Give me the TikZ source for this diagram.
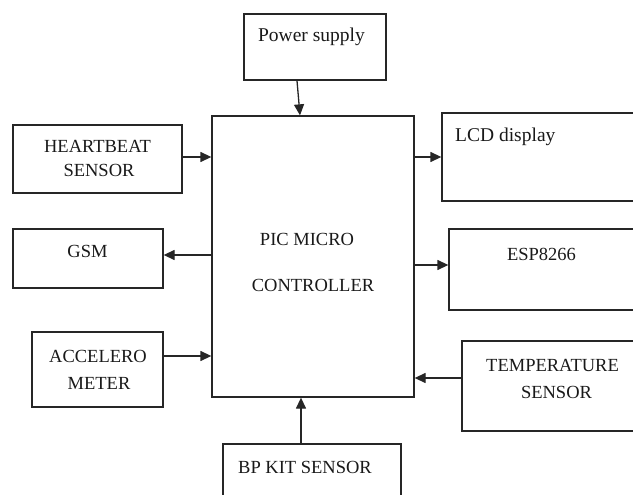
\documentclass[tikz,border=0pt]{standalone}
\usepackage{fontspec}
\setmainfont{Liberation Serif}
\usetikzlibrary{arrows.meta}
\begin{document}
\begin{tikzpicture}[x=1pt,y=-1pt,
  box/.style={draw=black!85, line width=1.3pt, inner sep=0pt},
  captxt/.style={inner sep=0pt, anchor=base, text=black!90, font=\fontsize{18.5}{22}\selectfont},
  lowtxt/.style={inner sep=0pt, anchor=base, text=black!90, font=\fontsize{19.5}{23}\selectfont},
  arr/.style={line width=1.3pt, draw=black!85, -{Triangle[length=11pt,width=10pt]}}]
\useasboundingbox (0,0) rectangle (633,495);
\clip (0,0) rectangle (633,495);
% boxes
\node[box, minimum width=142pt, minimum height=66pt] (ps) at (315,47) {};
\node[box, minimum width=202pt, minimum height=281pt] (main) at (313,256.5) {};
\node[box, minimum width=169pt, minimum height=68pt] (hb) at (97.5,159) {};
\node[box, minimum width=150pt, minimum height=59pt] (gsm) at (88,258.5) {};
\node[box, minimum width=131pt, minimum height=75pt] (acc) at (97.5,369.5) {};
\node[box, minimum width=208pt, minimum height=88pt] (lcd) at (546,157) {};
\node[box, minimum width=201pt, minimum height=81pt] (esp) at (549.5,269.5) {};
\node[box, minimum width=188pt, minimum height=90pt] (temp) at (556,386) {};
\node[box, minimum width=178pt, minimum height=76pt] (bp) at (312,482) {};
% texts
\node[lowtxt] (tps) at (311.5,42) {Power supply};
\node[captxt] (thb1) at (97.5,153) {HEARTBEAT};
\node[captxt] (thb2) at (99,177) {SENSOR};
\node[captxt] (tgsm) at (87.5,257) {GSM};
\node[captxt] (tacc1) at (98,362) {ACCELERO};
\node[captxt] (tacc2) at (99,389) {METER};
\node[lowtxt, anchor=base west] (tlcd) at (455,142) {LCD display};
\node[captxt] (tesp) at (541.5,260) {ESP8266};
\node[captxt] (ttemp1) at (552.5,371) {TEMPERATURE};
\node[captxt] (ttemp2) at (556.5,398) {SENSOR};
\node[captxt] (tmain1) at (307,245) {PIC MICRO};
\node[captxt] (tmain2) at (313,291) {CONTROLLER};
\node[captxt] (tbp) at (305,473) {BP KIT SENSOR};
% connectors
\draw[arr] ([xshift=-18pt]ps.south) -- ([xshift=-13pt]main.north);
\draw[arr] ([yshift=2pt]hb.east) -- ([yshift=2pt]hb.east -| main.west);
\draw[arr] ([yshift=3.5pt]gsm.east -| main.west) -- ([yshift=3.5pt]gsm.east);
\draw[arr] ([yshift=13.5pt]acc.east) -- ([yshift=13.5pt]acc.east -| main.west);
\draw[arr] (lcd.west -| main.east) -- (lcd.west);
\draw[arr] ([yshift=4.5pt]esp.west -| main.east) -- ([yshift=4.5pt]esp.west);
\draw[arr] ([yshift=8pt]temp.west) -- ([yshift=8pt]temp.west -| main.east);
\draw[arr] ([xshift=-11pt]bp.north) -- ([xshift=-11pt]bp.north |- main.south);
\end{tikzpicture}
\end{document}
